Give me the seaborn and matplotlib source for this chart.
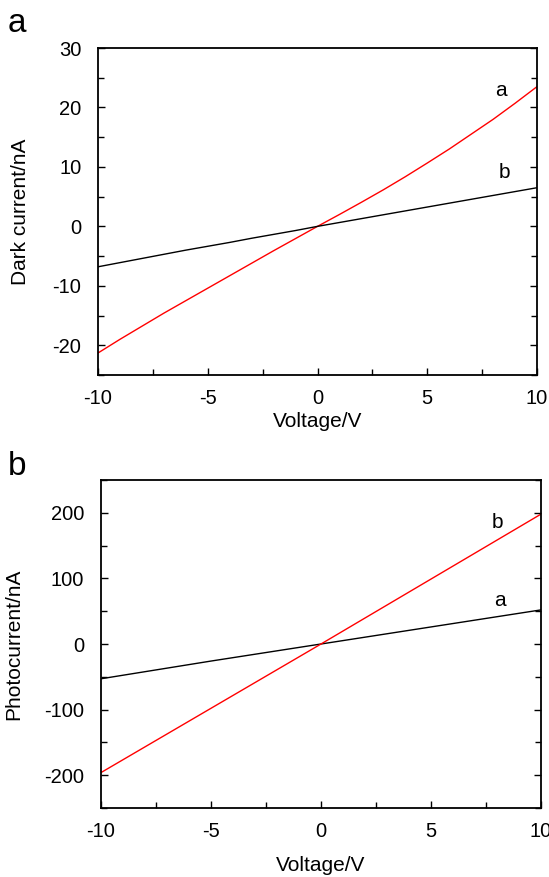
import matplotlib
matplotlib.use("Agg")
import matplotlib.pyplot as plt
import seaborn as sns
from matplotlib.ticker import MultipleLocator

# voltage sweep (V)
voltage = [-10, -9, -8, -7, -6, -5, -4, -3, -2, -1, 0,
           1, 2, 3, 4, 5, 6, 7, 8, 9, 10]

# panel a: dark current (nA)
dark_a = [-21.3, -19.0, -16.8, -14.6, -12.5, -10.4, -8.3, -6.2, -4.1, -2.05, 0,
          2.0, 4.05, 6.15, 8.35, 10.65, 13.0, 15.5, 18.0, 20.7, 23.5]
dark_b = [-6.8, -6.1, -5.4, -4.7, -4.0, -3.35, -2.7, -2.0, -1.35, -0.7, 0,
          0.65, 1.3, 1.95, 2.6, 3.25, 3.9, 4.55, 5.2, 5.85, 6.5]

# panel b: photocurrent (nA)
volt_b = [-10, -5, 0, 5, 10]
photo_a = [-53, -26, 0, 26, 52]
photo_b = [-196, -98, 0, 99, 198]

sns.set_style("ticks")
plt.rcParams['font.family'] = ['Liberation Sans', 'DejaVu Sans']
plt.rcParams['axes.unicode_minus'] = False
plt.rcParams['text.color'] = "black"
plt.rcParams['axes.labelcolor'] = "black"

fig = plt.figure(figsize=(5.49, 8.77), dpi=100)
ax1 = fig.add_axes([98/549, 1-375/877, 439/549, 327/877])
ax2 = fig.add_axes([101/549, 1-808/877, 440/549, 328/877])

def style(ax, ylim, ymaj, ymin):
    ax.set_xlim(-10, 10)
    ax.set_ylim(*ylim)
    ax.xaxis.set_major_locator(MultipleLocator(5))
    ax.xaxis.set_minor_locator(MultipleLocator(2.5))
    ax.yaxis.set_major_locator(MultipleLocator(ymaj))
    ax.yaxis.set_minor_locator(MultipleLocator(ymin))
    ax.tick_params(which="both", direction="in", left=True, right=True,
                   bottom=True, top=False, labelsize=14.5, width=1, colors="black")
    ax.tick_params(which="major", length=5)
    ax.tick_params(axis="y", which="major", pad=12)
    ax.tick_params(axis="x", which="major", pad=10)
    ax.tick_params(which="minor", length=4)
    for s in ax.spines.values():
        s.set_linewidth(1.3)
        s.set_color("black")

sns.lineplot(x=voltage, y=dark_a, ax=ax1, color="red", linewidth=1)
sns.lineplot(x=voltage, y=dark_b, ax=ax1, color="black", linewidth=1)
style(ax1, (-25, 30), 10, 5)
ax1.set_xlabel("Voltage/V", fontsize=15, labelpad=3)
ax1.set_ylabel("Dark current/nA", fontsize=15, labelpad=16)
ax1.text(8.36, 22.9, "a", fontsize=15, ha="center", va="center")
ax1.text(8.5, 9.0, "b", fontsize=15, ha="center", va="center")

sns.lineplot(x=volt_b, y=photo_a, ax=ax2, color="black", linewidth=1)
sns.lineplot(x=volt_b, y=photo_b, ax=ax2, color="red", linewidth=1)
style(ax2, (-250, 250), 100, 50)
ax2.set_xlabel("Voltage/V", fontsize=15, labelpad=11)
ax2.set_ylabel("Photocurrent/nA", fontsize=15, labelpad=15)
ax2.text(8.0, 185, "b", fontsize=15, ha="center", va="center")
ax2.text(8.14, 66, "a", fontsize=15, ha="center", va="center")

fig.text(8/549, 1-32/877, "a", fontsize=24)
fig.text(8/549, 1-475/877, "b", fontsize=24)

fig.savefig("out.png", dpi=100)
